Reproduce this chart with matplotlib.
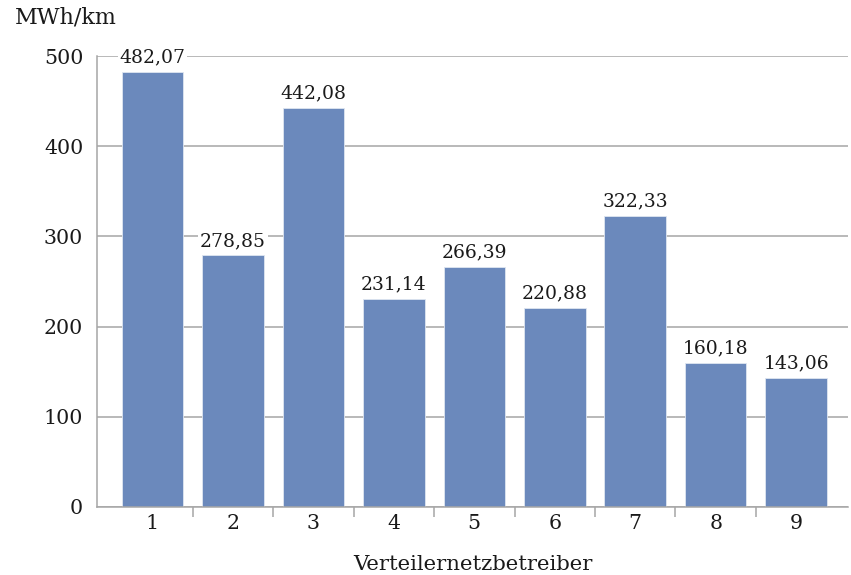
import matplotlib
matplotlib.use("Agg")
import matplotlib.pyplot as plt
import numpy as np

betreiber = ["1", "2", "3", "4", "5", "6", "7", "8", "9"]
werte = [482.07, 278.85, 442.08, 231.14, 266.39, 220.88, 322.33, 160.18, 143.06]
yticks = [0, 100, 200, 300, 400, 500]

plt.rcParams['font.family'] = ['DejaVu Serif']

fig = plt.figure(figsize=(8.51, 5.75), dpi=100)
ax = fig.add_axes([0.114, 0.1183, 0.8825, 0.7843])

x = np.arange(1, len(werte) + 1)
bars = ax.bar(x, werte, 0.765, color='#6b89bc', edgecolor='#dfe6f1',
              linewidth=0.6, zorder=3)

ax.set_ylim(0, 500)
ax.set_xlim(0.311, 9.645)
ax.set_yticks(yticks)
ax.set_yticklabels([str(v) for v in yticks], fontsize=14.8, color='#1a1a1a')
ax.yaxis.grid(True, color='#a6a6a6', linewidth=1.1, zorder=0)
ax.tick_params(axis='y', length=0, pad=10)

# category boundaries carry the tick marks, centres carry the labels
ax.set_xticks(x[:-1] + 0.5)
ax.set_xticklabels([])
ax.set_xticks(x, minor=True)
ax.set_xticklabels(betreiber, minor=True, fontsize=14.8, color='#1a1a1a')
ax.tick_params(axis='x', which='major', length=7, width=1.1, color='#a6a6a6')
ax.tick_params(axis='x', which='minor', length=0, pad=5)

for s in ['top', 'right']:
    ax.spines[s].set_visible(False)
for s in ['left', 'bottom']:
    ax.spines[s].set_color('#a6a6a6')
    ax.spines[s].set_linewidth(1.1)
    ax.spines[s].set_zorder(4)

for rect, v in zip(bars, werte):
    ax.annotate(('%.2f' % v).replace('.', ','),
                (rect.get_x() + rect.get_width() / 2, rect.get_height()),
                xytext=(0, 4), textcoords='offset points',
                ha='center', va='bottom', fontsize=13.5, color='#1a1a1a',
                bbox=dict(boxstyle='square,pad=0.1', fc='white', ec='none'),
                zorder=5)

fig.text(15 / 851, 1 - 17 / 575, 'MWh/km', fontsize=16, ha='left',
         va='center', color='#1a1a1a')
ax.set_xlabel('Verteilernetzbetreiber', fontsize=15.3, color='#1a1a1a',
              labelpad=16)

fig.savefig('out.png', dpi=100)
